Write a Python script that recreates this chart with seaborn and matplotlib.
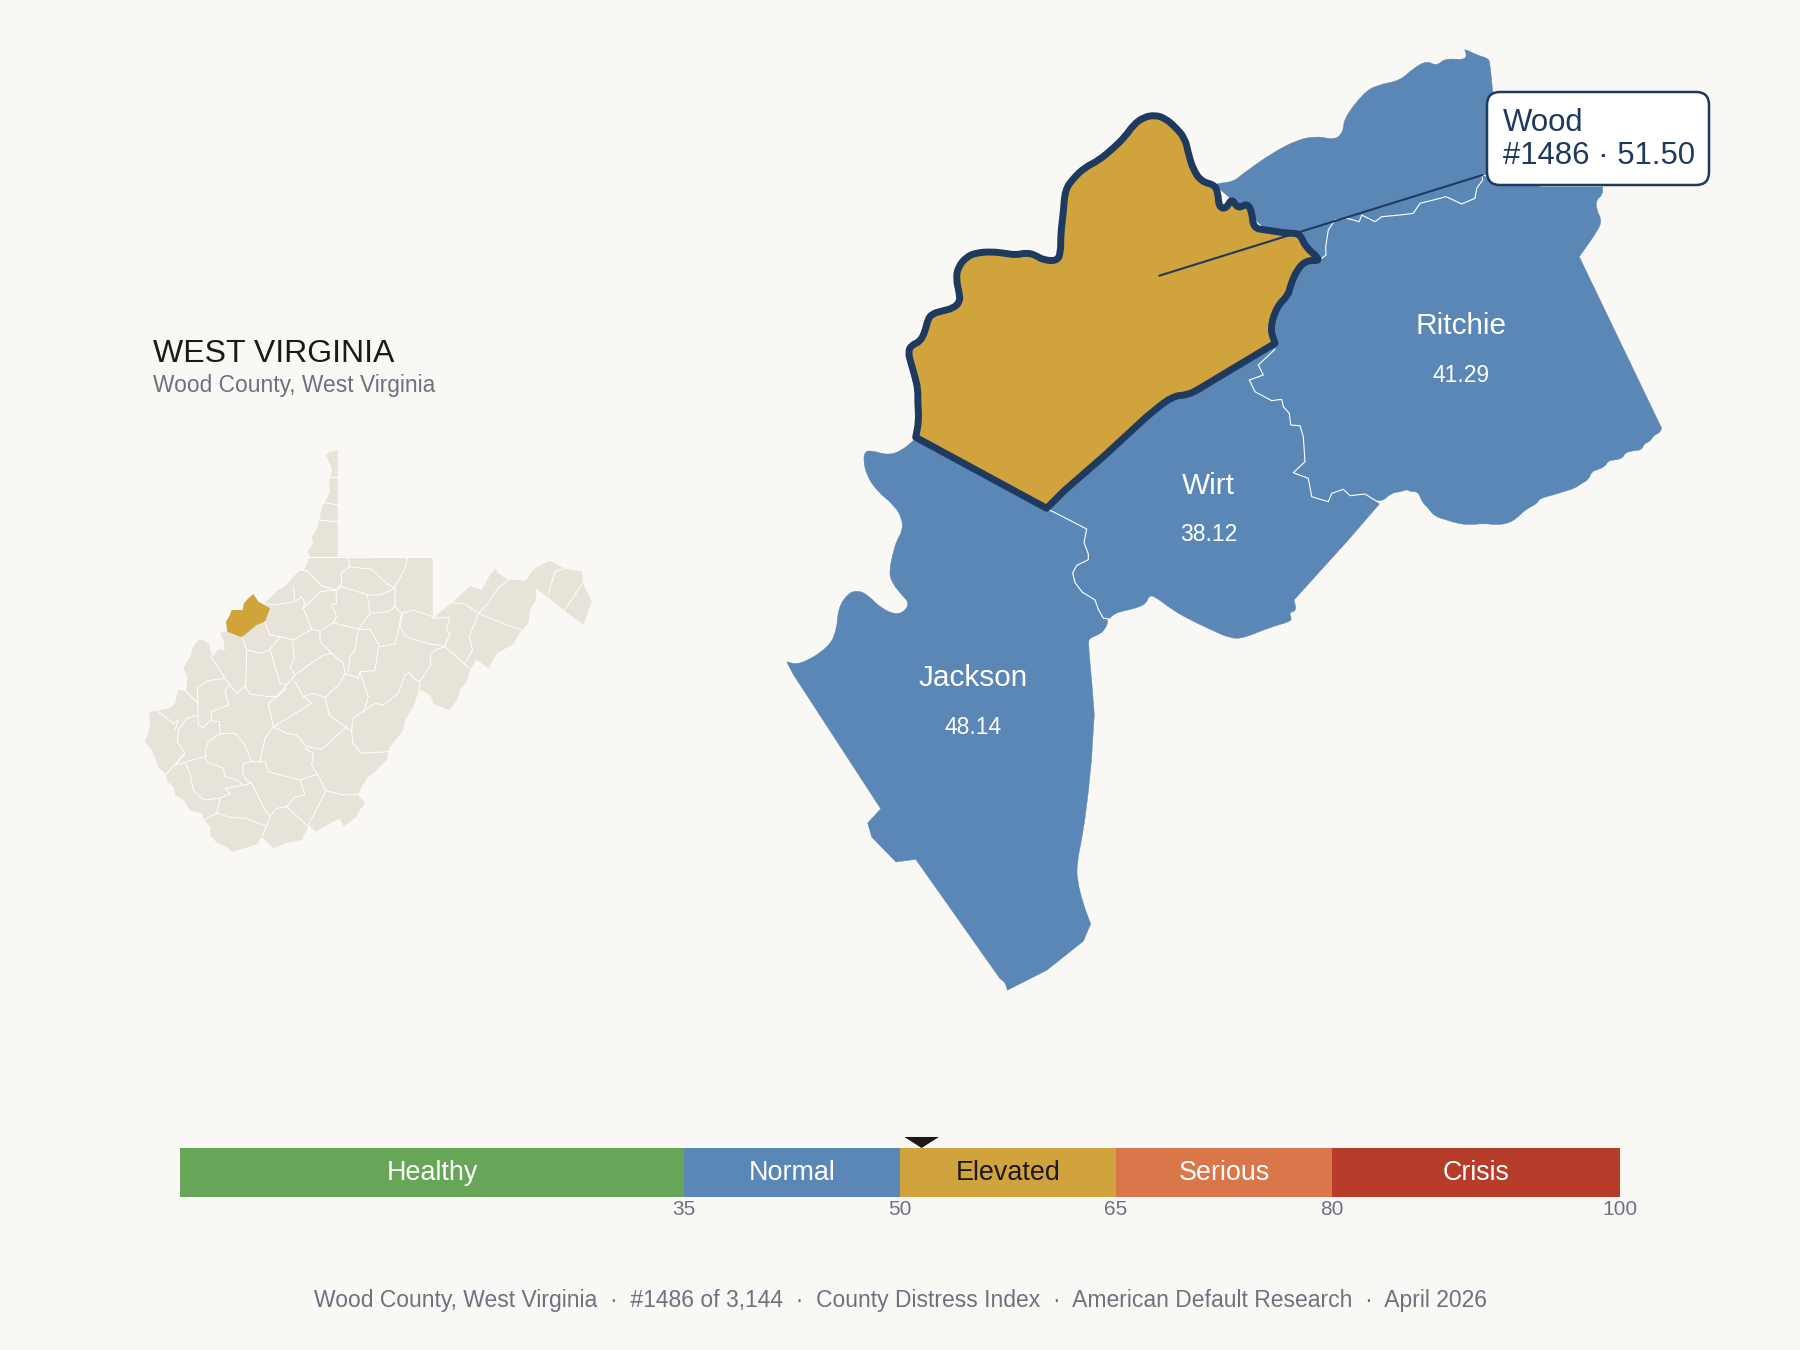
import numpy as np
import seaborn as sns
import matplotlib
matplotlib.use('Agg')
import matplotlib.pyplot as plt
from matplotlib.patches import FancyBboxPatch, PathPatch
from matplotlib.path import Path

BG = '#faf8f5'
NAVY = '#1f3a5f'
BLUE = '#5b87b7'
GOLD = '#d1a33c'
TAN = '#e8e3d8'
GRAY = '#6b7280'
DARK = '#1a1a1a'

# distress bands
band_names = ['Healthy', 'Normal', 'Elevated', 'Serious', 'Crisis']
band_start = [0, 35, 50, 65, 80]
band_width = [35, 15, 15, 15, 20]
band_colors = ['#67a659', BLUE, GOLD, '#d9774a', '#b73c2a']
band_text = ['white', 'white', DARK, 'white', 'white']
band_ticks = [35, 50, 65, 80, 100]
wood_score = 51.5

# neighbours
label_names = ['Ritchie', 'Wirt', 'Jackson']
label_scores = ['41.29', '38.12', '48.14']
label_x = [1460.7, 1208.7, 972.7]
label_y = [334, 493.7, 686]
value_y = [381.7, 541, 733.8]

# main map outlines, in page pixels
wood_north = [(915.7,437.3),(919,420),(917.7,403.3),(918,390),(915,376.7),(911,363.3),(908,351.7),(911.7,345),
    (920,341.7),(925,331.7),(927.7,320),(931.7,314),(941.7,311),(953.3,308.3),(960,301.7),(959.3,293.3),
    (956,278.3),(958.3,266.7),(966.7,256.7),(976.7,252.7),(991.7,251.7),(1005,253.3),(1016,255),(1026.7,252.7),
    (1035,255),(1043.3,260),(1056.7,261),(1060.7,253.3),(1060.7,233.3),(1063.3,213.3),(1065,190),(1073.3,178.3),
    (1085,167.3),(1098.3,160.7),(1113.3,148.3),(1125,136.7),(1133.3,125),(1143.3,117.3),(1155,115),(1165,118.3),
    (1175,126.7),(1185,138.3),(1188.3,153.3),(1193.3,170),(1201.7,181.7),(1215,185)]
wood_creek = [(1215,185),(1218,194),(1219,207),(1226,209),(1231.7,198),(1238,209),(1247,203),(1252,212),
    (1253.3,228.3),(1266.7,230),(1286.7,233.3),(1300,233.3),(1305,246.7),(1322,261),(1306.7,260)]
wood_ritchie = [(1306.7,260),(1296.7,270),(1290,286.7),(1288.3,295),(1276.7,306.7),(1270,328.3),(1275,343.3)]
wood_wirt = [(1275,343.3),(1200,388.3),(1188,395),(1172,396),(1146.7,416.7),(1103.3,456.7),(1065,490),(1046.7,508.3)]

jackson_wirt = [(1046.7,509.9),(1051.7,511),(1086.7,529),(1084,542.5),(1088.3,554),(1088.3,559.7),(1076.7,565.4),(1072.7,573),
    (1075,582.6),(1082.3,592.2),(1095,599.9),(1098.3,609.4),(1103.3,618.2),(1109,619)]
# doubled points stay sharp corners
jackson_rest = [(1105,629.7),(1098.3,635),(1089.3,638.1),(1088.3,643.9),(1091.7,680.2),(1094.3,714.7),(1091.7,756.8),(1088.3,793.1),
    (1083.3,831.4),(1076.7,863.9),(1077.3,881.1),(1083.3,904.1),(1090.7,924),(1090.7,924),(1083.3,941.2),(1083.3,941.2),(1046.7,970.3),
    (1007.3,990.2),(1005.3,982.6),(1000,978.7),(915.7,859.3),(915.7,859.3),(896,862),(896,862),(871.7,837.1),(871.7,837.1),
    (867.7,823),(867.7,823),(880.7,808.8),(880.7,808.8),(793.3,674.5),(786.7,661.9),(786.7,661.9),
    (800,664.9),(828.3,647.7),(836.7,630.5),(838.3,607.5),(848.3,593),(858.3,590.3),(868.3,595.3),(880,607.5),(896.7,615.2),
    (906.7,609.4),(908.3,601.8),(903.3,596.8),(891.7,582.6),(889,571.2),(893.3,552),(896.7,540.5),(902.3,531),(902.3,519.5),
    (895,506),(876.7,490.8),(866.7,475.5),(863.3,460.2),(865,451.4),(871.7,450.6),(888.3,455.2),(901.7,450.6),(914.3,439.9)]
wirt_south = [(1109,619),(1115,613.3),(1125,610.6),(1138.3,607.5),(1146.7,602.9),(1148.3,596.8),(1153.3,595.3),(1171.7,609.4),
    (1188.3,619),(1210,629.3),(1230,638.3),(1243.3,638.3),(1270,627.3),(1290,621.7),(1291.7,618.3),(1289,612.7),(1296.7,610.7),
    (1294,600),(1348.3,540),(1380,503.3)]
wirt_ritchie = [(1275,349.3),(1258.3,365),(1263.3,375),(1249.3,380),(1255,391.7),(1271.7,400.7),(1281.7,399.3),(1283.3,406.7),
    (1289.3,413.3),(1290.7,425),(1300,425.7),(1303.3,436.7),(1305,461.7),(1293.3,472.7),(1308.3,478.3),(1311.7,496.7),
    (1328.3,501.7),(1331.7,493.3),(1343.3,489.3),(1350,495.7),(1365,494),(1380,503.3)]
ritchie_north = [(1321.7,258.3),(1326,255),(1325.7,246.7),(1328.3,230),(1335,220),(1346.7,218.3),(1359.3,221.7),(1361.7,215),
    (1375,221.7),(1381.7,216.7),(1400,215),(1413.3,213.3),(1420,203.3),(1433.3,200),(1446,196.7),(1453.3,200),(1461.7,204),
    (1475,198.3),(1476.7,188.3),(1482.7,180),(1481.7,175),(1541,186),(1602.7,186)]
ritchie_east = [(1602.7,186),(1602.7,195),(1596,200),(1596.7,210),(1601.7,220),(1598.3,230),(1579.3,256.7),(1661.7,428.3),
    (1659.3,433.3),(1654,435),(1650,441.7),(1644.3,443.3),(1641.7,450),(1633.3,450.7),(1625,452.7),(1622.7,458.3),(1615,460),
    (1608.3,460.7),(1605,466.7),(1596.7,470),(1591.7,471.7),(1588.3,480),(1581.7,483.3),(1575,488.3),(1563.3,491.7),(1553.3,495),
    (1540,498.3),(1537.3,503.3),(1528.3,508.3),(1523.3,511.7),(1516.7,518.3),(1508.3,523.3),(1496.7,525),(1483.3,523.3),(1470,525),
    (1456.7,523.3),(1446.7,520),(1435,516.7),(1428.3,508.3),(1421.7,501.7),(1418.3,491.7),(1410,491.7),(1406.7,489.3),(1401.7,491.7),
    (1391.7,492.7),(1380,503.3)]
north_coast = [(1218.3,183.3),(1233.3,181.7),(1243.3,173.3),(1271.7,153.3),(1296.7,140),(1316.7,136),(1335,140),(1343.3,131.7),
    (1344,118.3),(1363.3,93.3),(1376.7,85),(1400,80.7),(1413.3,68.3),(1426.7,60.7),(1436.7,66),(1445,58.3),(1465,60),(1466.7,53.3),
    (1463.3,48.3),(1476.7,55),(1488.3,58.3),(1490,63.3),(1492.7,91.7),(1600,140),(1602.7,186)]

# state inset outline and county lines, in inset pixels (3 per page pixel)
state_outline = [(623,30),(600,35),(587,45),(600,70),(607,95),(600,112),(598,130),(600,155),(588,180),(575,205),(568,240),(560,270),
    (545,290),(550,310),(532,335),(540,350),(530,370),(522,390),(510,392),(490,410),(465,438),(438,455),(420,475),(400,490),(385,485),
    (370,462),(355,475),(342,490),(338,510),(305,510),(300,525),(288,545),(292,575),(270,578),(280,600),(285,630),(265,628),(248,650),
    (240,630),(238,612),(215,598),(205,600),(190,620),(180,650),(160,685),(172,710),(170,750),(145,750),(135,790),(120,805),(80,812),
    (58,815),(60,850),(55,880),(45,905),(65,930),(80,965),(88,985),(108,1003),(112,1025),(130,1040),(135,1065),(160,1080),(180,1110),
    (215,1120),(222,1140),(240,1160),(240,1185),(262,1210),(290,1220),(305,1235),(345,1225),(385,1210),(395,1190),(430,1225),(470,1208),
    (515,1200),(530,1170),(535,1155),(558,1175),(600,1150),(630,1135),(640,1160),(680,1130),(685,1115),(705,1090),(685,1065),(695,1040),
    (715,1010),(735,995),(770,960),(780,920),(820,870),(825,840),(850,800),(868,748),(900,765),(912,793),(957,810),(980,782),(990,750),
    (1010,725),(1022,688),(1038,658),(1075,685),(1100,640),(1150,612),(1172,575),(1195,550),(1200,510),(1218,480),(1218,438),(1188,422),
    (1360,555),(1385,485),(1360,430),(1355,395),(1305,385),(1260,362),(1220,382),(1205,395),(1188,422),(1135,418),(1105,400),(1097,385),
    (1080,405),(1055,450),(1020,438),(970,485),(908,535),(908,352),(623,350)]
wood_inset = [(292,575),(288,545),(300,525),(305,510),(338,510),(342,490),(355,475),(370,462),(385,485),(420,505),(405,545),(380,555),(335,592)]
county_lines = [
    [(600,112),(623,112)], [(585,188),(623,195)], [(565,240),(623,245)], [(532,350),(908,350)],
    [(655,352),(658,380),(725,388),(770,430),(795,445)], [(832,352),(825,385),(795,440),(795,500)],
    [(795,445),(750,465),(715,465),(635,440)], [(658,380),(633,400),(635,430),(618,450),(575,438),(530,392),(510,390)],
    [(635,440),(618,450),(620,490),(605,495),(620,530),(610,548),(685,568),(720,520),(712,465)],
    [(720,520),(775,515),(795,500),(815,520),(850,510),(908,530)],
    [(815,520),(805,570),(795,612),(750,620),(720,568),(685,568)],
    [(618,450),(570,455),(520,505),(545,568),(490,600),(450,590),(420,585),(403,545)],
    [(490,440),(495,485),(430,495),(400,490)], [(495,485),(515,470),(525,490),(518,505)],
    [(545,568),(570,572),(570,605),(605,640),(640,670),(645,700),(685,715),(690,695),(735,692),(745,620)],
    [(685,568),(675,630),(660,650),(655,695)], [(610,548),(575,570)],
    [(335,590),(350,630),(395,640),(420,628),(450,590)],
    [(420,628),(435,680),(450,730),(470,735),(495,705),(480,680),(492,660),(488,605)],
    [(495,705),(580,645),(605,640)], [(350,630),(348,720),(345,740),(320,760),(285,715),(240,645)],
    [(345,740),(360,762),(415,770),(440,770),(470,735)],
    [(285,715),(235,722),(202,742),(205,855),(220,862),(243,840),(245,815),(295,795),(285,750),(300,735)],
    [(158,745),(205,790)], [(80,812),(130,850),(145,840),(135,870)],
    [(203,825),(170,835),(145,870),(142,905),(165,940),(108,1003)],
    [(165,940),(135,975),(230,948),(225,935),(235,905),(270,880),(268,845),(245,843)],
    [(430,860),(405,895),(390,965),(365,965),(345,915),(315,880),(280,880),(270,885)],
    [(415,790),(430,860),(545,790),(520,770),(495,725)], [(415,790),(470,745)],
    [(520,770),(550,760),(585,772),(630,730),(645,700)],
    [(585,772),(598,825),(665,875),(668,910),(695,940),(775,935)],
    [(665,875),(668,835),(735,790),(760,795),(805,760),(825,705),(838,698),(850,715),(870,725)],
    [(690,695),(715,770),(700,820)], [(430,860),(470,880),(500,885),(530,920),(575,928),(650,860)],
    [(525,925),(550,940),(545,975),(562,1003),(510,1020),(470,1010),(415,995),(405,965),(390,965)],
    [(562,1003),(588,1052),(535,1155)], [(588,1052),(640,1065),(690,1062)],
    [(510,1020),(525,1065),(495,1070),(470,1100),(530,1155)],
    [(470,1100),(440,1105),(420,1130),(405,1110),(365,1030),(350,1020),(338,1000),(340,970),(365,965)],
    [(225,948),(230,965),(280,985),(285,1010),(320,1020),(340,1035),(285,1045),(300,1060),(270,1075),(220,1080),(190,1050),(180,1000),(165,968)],
    [(340,1035),(365,1030)], [(270,1075),(260,1120),(300,1132),(350,1135),(410,1160),(395,1190)],
    [(420,1130),(410,1160)], [(260,1120),(222,1140)],
    [(817,523),(810,560),(830,592),(900,612),(945,618),(960,580),(948,570),(960,532),(908,535)],
    [(945,620),(1022,688)], [(945,620),(918,628),(900,645),(903,675),(870,725),(868,748)],
    [(970,488),(1005,492),(1045,520),(1130,555),(1175,570)],
    [(1135,418),(1100,450),(1075,490),(1045,520),(1018,590),(1028,630),(1005,670)],
    [(1275,395),(1255,462)], [(1358,430),(1305,508)], [(1305,385),(1275,395)],
]


def curve_path(pts, sharp_len=40):
    # closed outline with rounded river bends, long straight edges keep their corners
    p = np.array(pts, dtype=float)
    prev_p = np.roll(p, 1, axis=0)
    next_p = np.roll(p, -1, axis=0)
    lens_a = np.hypot(*(p - prev_p).T)
    lens_b = np.hypot(*(next_p - p).T)
    verts = [(prev_p[0] + p[0]) / 2]
    codes = [Path.MOVETO]
    for v, n, a, b in zip(p, next_p, lens_a, lens_b):
        mid = (v + n) / 2
        if a > sharp_len or b > sharp_len:
            verts += [v, mid]
            codes += [Path.LINETO, Path.LINETO]
        else:
            verts += [v, mid]
            codes += [Path.CURVE3, Path.CURVE3]
    verts.append(verts[0])
    codes.append(Path.CLOSEPOLY)
    return Path(verts, codes)


def fill_shape(ax, pts, color):
    xs, ys = zip(*pts)
    ax.fill(xs, ys, color=color, lw=0)


def line_shape(ax, pts, color='white', lw=0.8):
    xs, ys = zip(*pts)
    ax.plot(xs, ys, color=color, lw=lw, solid_joinstyle='round', solid_capstyle='round')


def inset(pts):
    return [(130 + x / 3, 440 + y / 3) for x, y in pts]


sns.set_theme(style='white', rc={'figure.facecolor': BG, 'axes.facecolor': BG, 'savefig.facecolor': BG})
plt.rcParams['font.family'] = ['Liberation Sans', 'DejaVu Sans']

fig = plt.figure(figsize=(18, 13.5), dpi=100)
ax = fig.add_axes([0, 0, 1, 1])
ax.set_xlim(0, 1800)
ax.set_ylim(1350, 0)
ax.axis('off')

# inset
fill_shape(ax, inset(state_outline), TAN)
for seg in county_lines:
    line_shape(ax, inset(seg), lw=0.7)
fill_shape(ax, inset(wood_inset), GOLD)
ax.text(153, 361.7, 'WEST VIRGINIA', fontsize=23, color=DARK, va='baseline')
ax.text(153, 391.7, 'Wood County, West Virginia', fontsize=16.35, color=GRAY, va='baseline')

# main map
jackson = wood_wirt[-1:] + jackson_wirt + jackson_rest + wood_north[:1]
wirt = wood_wirt[::-1] + [(1275, 349.3)] + wirt_ritchie + wirt_south[::-1] + jackson_wirt[::-1]
ritchie = ritchie_north + ritchie_east[1:] + wirt_ritchie[::-1][1:] + wood_ritchie[::-1]
north = north_coast + ritchie_north[::-1][1:] + wood_creek[::-1][:6] + wood_creek[:1]
for shape in [jackson, wirt, ritchie, north]:
    ax.add_patch(PathPatch(curve_path(shape), fc=BLUE, ec=BLUE, lw=0.3))
line_shape(ax, jackson_wirt)
line_shape(ax, wirt_ritchie)
line_shape(ax, ritchie_north)

wood = wood_north + wood_creek[1:] + wood_ritchie[1:] + wood_wirt[1:]
ax.add_patch(PathPatch(curve_path(wood), fc=GOLD, ec=NAVY, lw=5, joinstyle='round', zorder=3))

for name, score, x, y, vy in zip(label_names, label_scores, label_x, label_y, value_y):
    ax.text(x, y, name, fontsize=21.4, color='white', ha='center', va='baseline')
    ax.text(x, vy, score, fontsize=16.5, color='white', ha='center', va='baseline')

# callout
ax.plot([1159.3, 1482.7], [275.7, 175], color=NAVY, lw=1.5, zorder=4)
ax.add_patch(FancyBboxPatch((1487, 92), 222, 93, boxstyle='round,pad=0,rounding_size=13',
                            fc='white', ec=NAVY, lw=1.8, zorder=5))
ax.text(1503.3, 131, 'Wood', fontsize=22.4, color=NAVY, va='baseline', zorder=6)
ax.text(1503.3, 164, '#1486 · 51.50', fontsize=22.4, color=NAVY, va='baseline', zorder=6)

# footer
ax.text(900, 1307, 'Wood County, West Virginia  ·  #1486 of 3,144  ·  County Distress Index  ·  '
        'American Default Research  ·  April 2026', fontsize=16.5, color=GRAY, ha='center', va='baseline')

# scale bar
ax_bar = fig.add_axes([0.1, 1 - 1197 / 1350, 0.8, 49 / 1350])
ax_bar.patch.set_alpha(0)
for name, start, width, color, tcolor in zip(band_names, band_start, band_width, band_colors, band_text):
    sns.barplot(x=[width], y=[0], orient='h', native_scale=True, left=start, width=1,
                color=color, saturation=1, linewidth=0, ax=ax_bar)
    ax_bar.text(start + width / 2, -0.15, name, fontsize=19.4, color=tcolor, ha='center', va='baseline')
ax_bar.fill([wood_score - 1.2, wood_score + 1.2, wood_score], [0.725, 0.725, 0.5], color=DARK, lw=0, clip_on=False)
ax_bar.set_xlim(0, 100)
ax_bar.set_ylim(-0.5, 0.5)
ax_bar.set_xticks(band_ticks)
ax_bar.set_yticks([])
ax_bar.set_xlabel('')
ax_bar.set_ylabel('')
ax_bar.tick_params(axis='x', length=0, pad=2.5, labelsize=15, labelcolor=GRAY)
sns.despine(ax=ax_bar, left=True, bottom=True)

fig.savefig('out.png', dpi=100)
